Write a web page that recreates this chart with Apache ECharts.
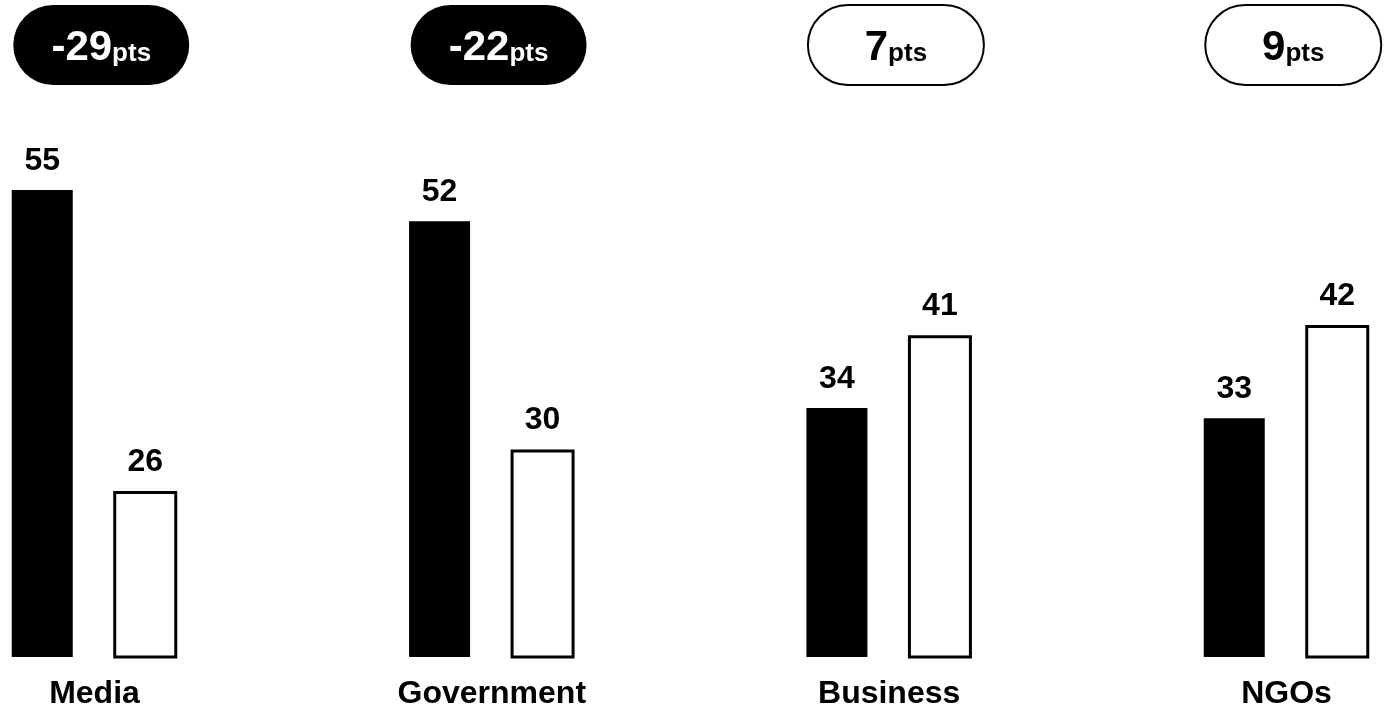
<!DOCTYPE html>
<html>
<head>
<meta charset="utf-8">
<title>Trust change by institution</title>
<script src="https://cdn.jsdelivr.net/npm/echarts@6/dist/echarts.min.js"></script>
<style>
  html, body { margin: 0; padding: 0; background: #fff; }
  #chart { width: 1386px; height: 712px; }
</style>
</head>
<body>
<div id="chart"></div>
<script>
// Institutions and their trust levels at the two points in time
const categories = ['Media', 'Government', 'Business', 'NGOs'];
const before = [55, 52, 34, 33];
const after = [26, 30, 41, 42];
// Point change for each institution, shown in the pill badges
const changePts = [-29, -22, 7, 9];

const FONT = '"Liberation Sans", Arial, Helvetica, sans-serif';
const BAR_W = 61;        // solid bar width
const OUTLINE_W = 64;    // outlined bar width (border drawn inside)
const BAR_GAP = 40.5;    // space between the two bars of a pair
const PILL_W = 176;
const PILL_H = 80;
const PILL_TOP = 5;
const NUM_SIZE = 42;
const PTS_SIZE = 26;

const measureCtx = document.createElement('canvas').getContext('2d');
function textWidth(text, size) {
  measureCtx.font = 'bold ' + size + 'px ' + FONT;
  return measureCtx.measureText(text).width;
}

const chart = echarts.init(document.getElementById('chart'), null, { renderer: 'canvas' });

const valueLabel = {
  show: true,
  position: 'top',
  distance: 13,
  color: '#000',
  fontSize: 32,
  fontWeight: 'bold',
  fontFamily: FONT
};

chart.setOption({
  animation: false,
  backgroundColor: '#fff',
  textStyle: { fontFamily: FONT },
  grid: { left: 94.5, right: 99.5, top: 138.2, bottom: 55 },
  xAxis: {
    type: 'category',
    data: categories,
    boundaryGap: false,
    axisLine: { show: false },
    axisTick: { show: false },
    splitLine: { show: false },
    axisLabel: {
      interval: 0,
      margin: 21,
      color: '#000',
      fontSize: 32,
      fontWeight: 'bold',
      fontFamily: FONT
    }
  },
  yAxis: {
    type: 'value',
    min: 10,
    max: 60,
    show: false,
    splitLine: { show: false }
  },
  series: [
    {
      type: 'bar',
      name: 'before',
      data: before,
      barWidth: BAR_W,
      barGap: (BAR_GAP / BAR_W * 100).toFixed(2) + '%',
      itemStyle: { color: '#000' },
      label: valueLabel
    },
    {
      type: 'bar',
      name: 'after',
      data: after,
      barWidth: OUTLINE_W,
      itemStyle: { color: '#fff', borderColor: '#000', borderWidth: 3 },
      label: valueLabel
    },
    {
      // Pill badge above each pair of bars with the change in points
      type: 'custom',
      name: 'change',
      coordinateSystem: 'cartesian2d',
      clip: false,
      silent: true,
      data: changePts.map((v, i) => [i, v]),
      encode: { x: 0, y: 1 },
      renderItem: function (params, api) {
        const idx = api.value(0);
        const change = api.value(1);
        const center = api.coord([idx, 10])[0];
        const left = center - (BAR_W + BAR_GAP + OUTLINE_W) / 2 + 1.5;
        const negative = change < 0;
        const numText = String(change);
        const w1 = textWidth(numText, NUM_SIZE);
        const w2 = textWidth('pts', PTS_SIZE);
        const startX = left + PILL_W / 2 - (w1 + w2) / 2;
        const baseline = PILL_TOP + 58.3;
        const ink = negative ? '#fff' : '#000';
        return {
          type: 'group',
          children: [
            {
              type: 'rect',
              shape: { x: left, y: PILL_TOP, width: PILL_W, height: PILL_H, r: PILL_H / 2 },
              style: {
                fill: negative ? '#000' : '#fff',
                stroke: '#000',
                lineWidth: negative ? 0 : 2
              }
            },
            {
              type: 'text',
              style: {
                text: numText,
                x: startX,
                y: baseline - 0.3465 * NUM_SIZE,
                fill: ink,
                font: 'bold ' + NUM_SIZE + 'px ' + FONT,
                align: 'left',
                verticalAlign: 'middle'
              }
            },
            {
              type: 'text',
              style: {
                text: 'pts',
                x: startX + w1,
                y: baseline - 0.3465 * PTS_SIZE,
                fill: ink,
                font: 'bold ' + PTS_SIZE + 'px ' + FONT,
                align: 'left',
                verticalAlign: 'middle'
              }
            }
          ]
        };
      }
    }
  ]
});
</script>
</body>
</html>
